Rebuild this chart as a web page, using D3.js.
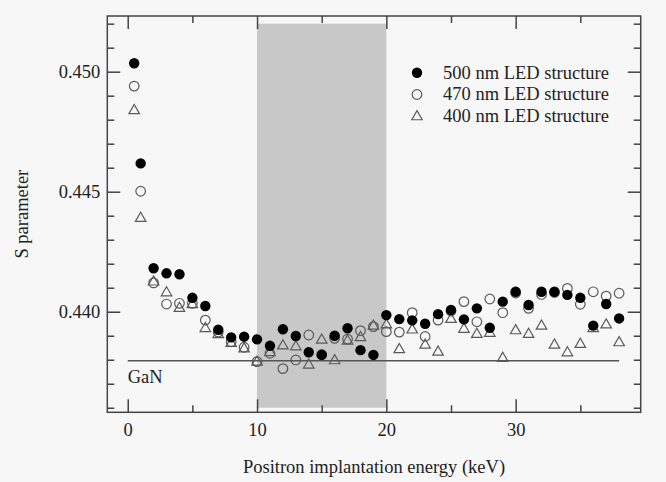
<!DOCTYPE html>
<html>
<head>
<meta charset="utf-8">
<script src="https://cdn.jsdelivr.net/npm/d3@7"></script>
<style>
  body { margin: 0; background: #f7f7f7; }
  text { font-family: "Liberation Serif", "Times New Roman", serif; fill: #222; }
</style>
</head>
<body>
<svg width="666" height="482"></svg>
<script>
// energies (keV)
const energy = [0.5, 1, 2, 3, 4, 5, 6, 7, 8, 9, 10, 11, 12, 13, 14, 15, 16, 17, 18, 19,
  20, 21, 22, 23, 24, 25, 26, 27, 28, 29, 30, 31, 32, 33, 34, 35, 36, 37, 38]

const s500 = [0.45035, 0.44618, 0.44181, 0.44160, 0.44156, 0.44058, 0.44024, 0.43925, 0.43893, 0.43896,
  0.43885, 0.43858, 0.43927, 0.43899, 0.43831, 0.43820, 0.43900, 0.43931, 0.43840, 0.43820,
  0.43986, 0.43969, 0.43964, 0.43950, 0.43990, 0.44007, 0.43968, 0.44014, 0.43933, 0.44042,
  0.44083, 0.44028, 0.44083, 0.44083, 0.44070, 0.44058, 0.43942, 0.44032, 0.43972]

const s470 = [0.44940, 0.44502, 0.44120, 0.44032, 0.44035, 0.44035, 0.43965, 0.43915, 0.43875, 0.43852,
  0.43792, 0.43827, 0.43763, 0.43799, 0.43903, 0.43822, 0.43889, 0.43886, 0.43921, 0.43938,
  0.43917, 0.43915, 0.43996, 0.43897, 0.43965, 0.44003, 0.44042, 0.43958, 0.44053, 0.43996,
  0.44078, 0.44014, 0.44072, 0.44080, 0.44097, 0.44031, 0.44083, 0.44065, 0.44077]

const s400 = [0.44838, 0.44389, 0.44124, 0.44079, 0.44014, 0.44030, 0.43930, 0.43905, 0.43868, 0.43845,
  0.43790, 0.43830, 0.43858, 0.43854, 0.43778, 0.43882, 0.43796, 0.43878, 0.43892, 0.43940,
  0.43945, 0.43842, 0.43924, 0.43861, 0.43832, 0.43968, 0.43927, 0.43906, 0.43910, 0.43806,
  0.43921, 0.43906, 0.43940, 0.43861, 0.43829, 0.43864, 0.43930, 0.43945, 0.43871]

const legendLabels = ['500 nm LED structure', '470 nm LED structure', '400 nm LED structure']
const xMajor = [0, 10, 20, 30], xMinor = [5, 15, 25, 35]
const yMajor = [0.440, 0.445, 0.450]
const yMinor = [0.436, 0.437, 0.438, 0.439, 0.441, 0.442, 0.443, 0.444, 0.446, 0.447, 0.448, 0.449, 0.451, 0.452]
const band = [10, 20, 0.436, 0.452]   // shaded region
const gan = 0.43796                   // GaN reference level, from 0 to 38 keV

const svg = d3.select("svg")
const pL = 107.3, pR = 640.7, pT = 16, pB = 412.3
const x = d3.scaleLinear().domain([-1.58, 39.67]).range([pL, pR])
const y = d3.scaleLinear().domain([0.43581, 0.45232]).range([pB, pT])
const axisCol = '#444', markCol = '#5a5a5a', fs = 18.5

svg.append("rect").attr("width", 666).attr("height", 482).attr("fill", "#f7f7f7")

// shaded band
svg.append("rect")
  .attr("x", x(band[0])).attr("y", y(band[3]))
  .attr("width", x(band[1]) - x(band[0])).attr("height", y(band[2]) - y(band[3]))
  .attr("fill", "#c8c8c8")

// GaN line
svg.append("line")
  .attr("x1", x(0)).attr("x2", x(38)).attr("y1", y(gan)).attr("y2", y(gan))
  .attr("stroke", "#555").attr("stroke-width", 1.5)
svg.append("text").attr("x", x(0)).attr("y", 383).attr("font-size", fs).text("GaN")

// axes
function ax(axis, tx, ty) {
  const g = svg.append("g").attr("transform", `translate(${tx},${ty})`).call(axis)
  g.select(".domain").remove()
  g.selectAll("line").attr("stroke", axisCol).attr("stroke-width", 1.5)
  g.selectAll("text").attr("font-size", fs).attr("font-family", '"Liberation Serif", serif').attr("fill", "#222")
  return g
}
ax(d3.axisBottom(x).tickValues(xMajor).tickSize(-13).tickPadding(11).tickFormat(d3.format("d")), 0, pB)
ax(d3.axisBottom(x).tickValues(xMinor).tickSize(-7).tickFormat(""), 0, pB)
ax(d3.axisTop(x).tickValues(xMajor).tickSize(-13).tickFormat(""), 0, pT)
ax(d3.axisTop(x).tickValues(xMinor).tickSize(-7).tickFormat(""), 0, pT)
ax(d3.axisLeft(y).tickValues(yMajor).tickSize(-13).tickPadding(7).tickFormat(d3.format(".3f")), pL, 0)
ax(d3.axisLeft(y).tickValues(yMinor).tickSize(-7).tickFormat(""), pL, 0)
ax(d3.axisRight(y).tickValues(yMajor).tickSize(-13).tickFormat(""), pR, 0)
ax(d3.axisRight(y).tickValues(yMinor).tickSize(-7).tickFormat(""), pR, 0)

svg.append("rect")
  .attr("x", pL).attr("y", pT).attr("width", pR - pL).attr("height", pB - pT)
  .attr("fill", "none").attr("stroke", axisCol).attr("stroke-width", 1.5)

// axis titles
svg.append("text").attr("x", (pL + pR) / 2).attr("y", 473)
  .attr("text-anchor", "middle").attr("font-size", fs).text("Positron implantation energy (keV)")
svg.append("text").attr("transform", `translate(28,${(pT + pB) / 2}) rotate(-90)`)
  .attr("text-anchor", "middle").attr("font-size", fs).text("S parameter")

// markers
const tri = d3.symbol().type(d3.symbolTriangle).size(48)

svg.selectAll(".tri").data(energy).enter().append("path")
  .attr("d", tri)
  .attr("transform", (d, i) => `translate(${x(d)},${y(s400[i])})`)
  .attr("fill", "none").attr("stroke", markCol).attr("stroke-width", 1.2)

svg.selectAll(".open").data(energy).enter().append("circle")
  .attr("cx", d => x(d)).attr("cy", (d, i) => y(s470[i])).attr("r", 4.8)
  .attr("fill", "none").attr("stroke", markCol).attr("stroke-width", 1.2)

svg.selectAll(".filled").data(energy).enter().append("circle")
  .attr("cx", d => x(d)).attr("cy", (d, i) => y(s500[i])).attr("r", 5.2)
  .attr("fill", "#000")

// legend
const lg = svg.append("g").attr("transform", "translate(417,72.7)")
lg.append("circle").attr("r", 5.2).attr("fill", "#000")
lg.append("circle").attr("cy", 21.8).attr("r", 4.8).attr("fill", "none").attr("stroke", markCol).attr("stroke-width", 1.2)
lg.append("path").attr("d", tri).attr("transform", "translate(0,44)").attr("fill", "none").attr("stroke", markCol).attr("stroke-width", 1.2)
lg.selectAll(".lab").data(legendLabels).enter().append("text")
  .attr("x", 26).attr("y", (d, i) => i * 21.8 + 6).attr("font-size", fs).text(d => d)
</script>
</body>
</html>
